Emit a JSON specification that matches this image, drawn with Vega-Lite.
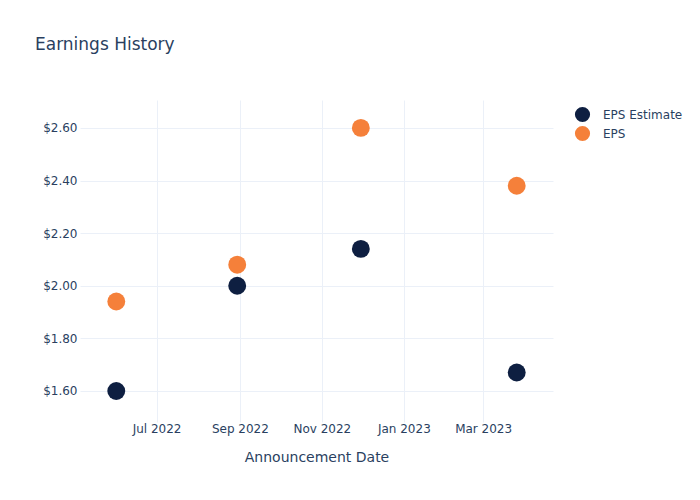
{
  "$schema": "https://vega.github.io/schema/vega-lite/v6.json",
  "autosize": "none",
  "width": 473,
  "height": 322,
  "padding": {"left": 80, "top": 100, "right": 147, "bottom": 78},
  "background": "white",
  "title": {
    "text": "Earnings History",
    "anchor": "start",
    "frame": "group",
    "dx": -45,
    "offset": 46,
    "fontSize": 17,
    "fontWeight": "normal",
    "font": "DejaVu Sans",
    "color": "#2a3f5f"
  },
  "config": {
    "view": {"stroke": null},
    "font": "DejaVu Sans",
    "axis": {
      "domain": false,
      "ticks": false,
      "gridColor": "#EBF0F8",
      "gridWidth": 1,
      "labelColor": "#2a3f5f",
      "labelFont": "DejaVu Sans",
      "labelFontSize": 12,
      "titleColor": "#2a3f5f",
      "titleFont": "DejaVu Sans",
      "titleFontSize": 14,
      "titleFontWeight": "normal"
    }
  },
  "data": {
    "values": [
      {"date": "2022-06-01", "series": "EPS Estimate", "value": 1.60},
      {"date": "2022-08-30", "series": "EPS Estimate", "value": 2.00},
      {"date": "2022-11-30", "series": "EPS Estimate", "value": 2.14},
      {"date": "2023-03-26", "series": "EPS Estimate", "value": 1.67},
      {"date": "2022-06-01", "series": "EPS", "value": 1.94},
      {"date": "2022-08-30", "series": "EPS", "value": 2.08},
      {"date": "2022-11-30", "series": "EPS", "value": 2.60},
      {"date": "2023-03-26", "series": "EPS", "value": 2.38}
    ]
  },
  "mark": {"type": "circle", "size": 320, "opacity": 1},
  "encoding": {
    "x": {
      "field": "date",
      "type": "temporal",
      "title": "Announcement Date",
      "scale": {"domain": ["2022-05-05", "2023-04-22"]},
      "axis": {
        "values": ["2022-07-01", "2022-09-01", "2022-11-01", "2023-01-01", "2023-03-01"],
        "format": "%b %Y",
        "labelPadding": 1,
        "titleY": 28,
        "labelAngle": 0
      }
    },
    "y": {
      "field": "value",
      "type": "quantitative",
      "title": null,
      "scale": {"domain": [1.482, 2.706], "zero": false, "nice": false},
      "axis": {
        "values": [1.6, 1.8, 2.0, 2.2, 2.4, 2.6],
        "format": "$.2f",
        "labelPadding": 3
      }
    },
    "color": {
      "field": "series",
      "type": "nominal",
      "sort": ["EPS Estimate", "EPS"],
      "scale": {"domain": ["EPS Estimate", "EPS"], "range": ["#0E1F41", "#F5803A"]},
      "legend": {
        "title": null,
        "orient": "none",
        "legendX": 494,
        "legendY": 6,
        "symbolType": "circle",
        "symbolSize": 230,
        "symbolOpacity": 1,
        "labelFontSize": 12,
        "labelColor": "#2a3f5f",
        "labelFont": "DejaVu Sans",
        "rowPadding": 2,
        "labelOffset": 12
      }
    }
  }
}
